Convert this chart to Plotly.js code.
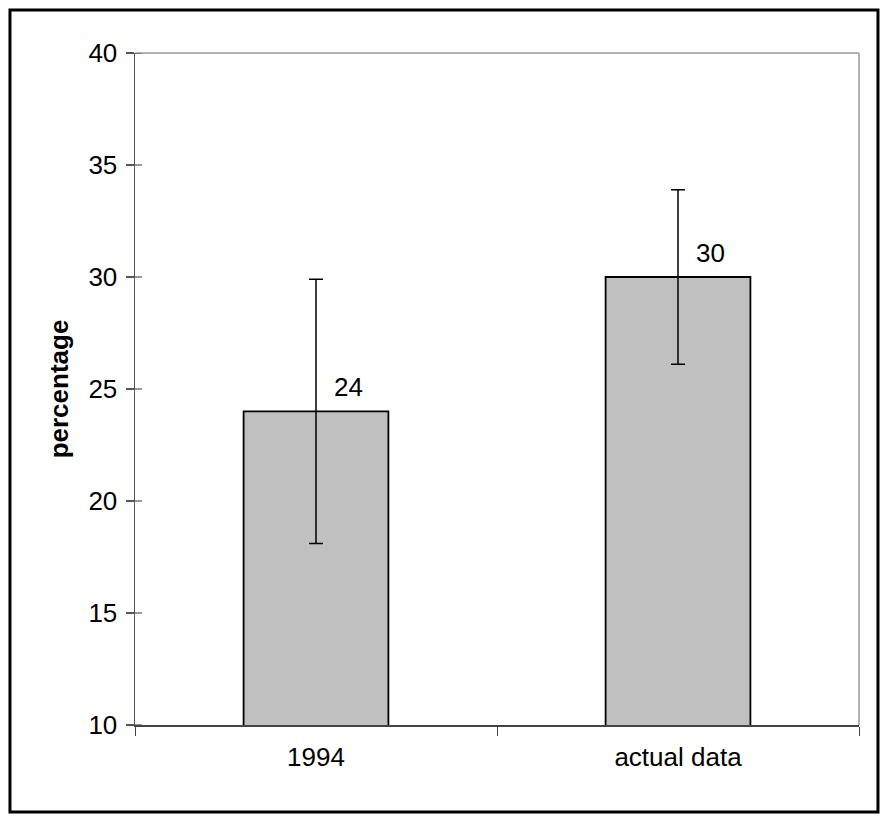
<!DOCTYPE html>
<html><head><meta charset="utf-8">
<script src="https://cdn.plot.ly/plotly-3.0.1.min.js"></script>
<style>html,body{margin:0;padding:0;background:#fff;}#chart{width:889px;height:822px;}</style>
</head><body><div id="chart"></div>
<script>
const categories = ['1994', 'actual data'];
const values = [24, 30];
const errors = [5.9, 3.9];
const yTicks = [10, 15, 20, 25, 30, 35, 40];

const FONT = 'Liberation Sans, Arial, sans-serif';

const bar = {
  type: 'bar', x: categories, y: values, width: 0.4,
  marker: {color: '#c0c0c0', line: {color: '#000', width: 1.8}},
  error_y: {type: 'data', array: errors, visible: true, color: '#000', thickness: 1.5, width: 7},
  hoverinfo: 'none'
};

const annotations = categories.map((c, i) => ({
  x: i, y: values[i], xref: 'x', yref: 'y', text: String(values[i]), showarrow: false,
  xshift: 32, yanchor: 'bottom', yshift: 7,
  font: {family: FONT, size: 26, color: '#000'}
}));

// inner halves of the y tick marks (ticks cross the axis in the reference)
const innerTicks = yTicks.map(v => ({
  type: 'line', xref: 'paper', yref: 'y', x0: 0, x1: 0.0097, y0: v, y1: v,
  line: {color: '#555', width: 1.2}
}));

const layout = {
  width: 889, height: 822,
  margin: {l: 135, r: 30, t: 53, b: 97},
  paper_bgcolor: '#fff', plot_bgcolor: '#fff',
  showlegend: false,
  font: {family: FONT, size: 26, color: '#000'},
  xaxis: {
    type: 'category', range: [-0.5, 1.5], autorange: false,
    showgrid: false, zeroline: false,
    showline: true, linecolor: '#444', linewidth: 1.5,
    ticks: 'outside', ticklen: 9, tickcolor: '#444', tickson: 'boundaries',
    ticklabelstandoff: 8,
    tickangle: 0, tickfont: {family: FONT, size: 26, color: '#000'}, fixedrange: true
  },
  yaxis: {
    range: [10, 40], autorange: false, tickvals: yTicks, showgrid: false, zeroline: false,
    showline: true, linecolor: '#555', linewidth: 1.5,
    ticks: 'outside', ticklen: 8, tickcolor: '#555', tickwidth: 1.2,
    tickfont: {family: FONT, size: 26, color: '#000'}, ticklabelstandoff: 3,
    title: {text: 'percentage', font: {size: 26, family: FONT, weight: 'bold'}, standoff: 12},
    fixedrange: true
  },
  annotations: annotations,
  shapes: [
    {type: 'line', xref: 'paper', yref: 'paper', x0: 0, x1: 1, y0: 1, y1: 1, line: {color: '#999', width: 1.5}},
    {type: 'line', xref: 'paper', yref: 'paper', x0: 1, x1: 1, y0: 0, y1: 1, line: {color: '#999', width: 1.5}},
    {type: 'rect', xref: 'paper', yref: 'paper', x0: -0.1727, x1: 1.0262, y0: -0.1295, y1: 1.064,
     line: {color: '#000', width: 3}, fillcolor: 'rgba(0,0,0,0)', layer: 'below'}
  ].concat(innerTicks)
};

Plotly.newPlot('chart', [bar], layout, {displayModeBar: false, staticPlot: true});
</script></body></html>
